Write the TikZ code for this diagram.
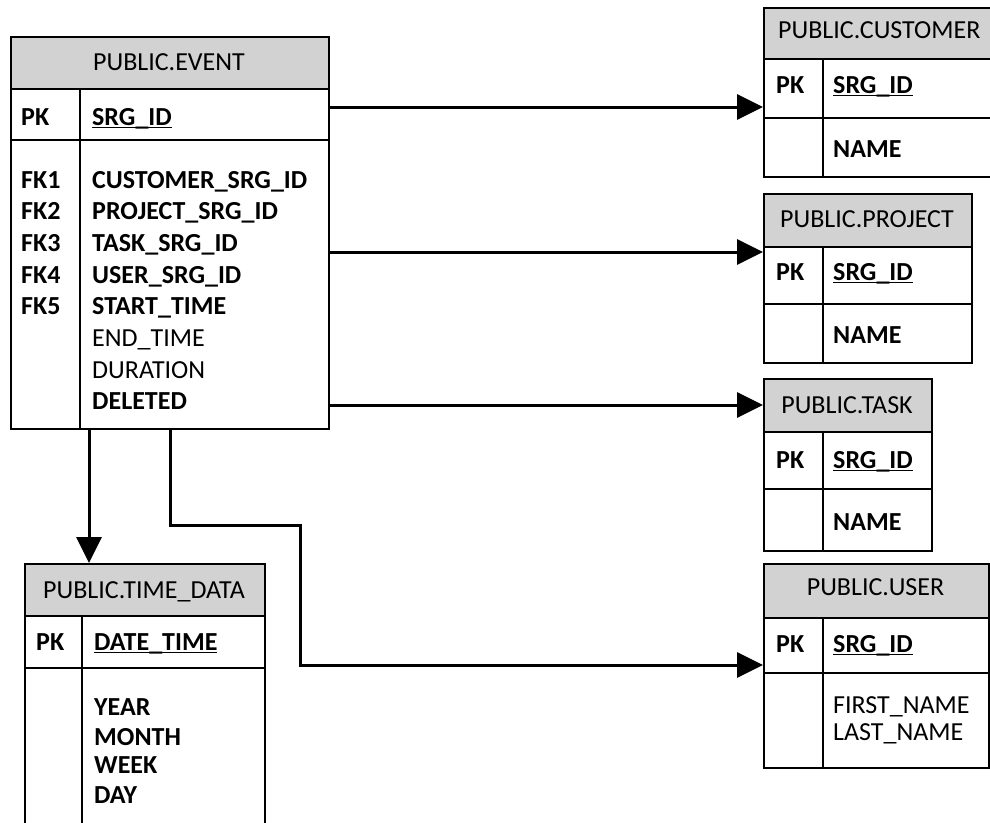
\documentclass[tikz,border=0pt]{standalone}
\usepackage{fontspec}
\setmainfont{Carlito}
\usetikzlibrary{arrows.meta}
\definecolor{hdrgray}{RGB}{210,210,210}
\newcommand\tblfont{\fontsize{26}{31}\selectfont}
% primary-key field: text with a rule just below the baseline
\newcommand\keyfield[1]{\setbox0\hbox{#1}\rlap{\rule[-3pt]{\wd0}{1.4pt}}\box0}

\tikzset{
  tblbox/.style={draw, line width=1.8pt, rectangle, inner sep=0pt, anchor=north west},
  hdrbox/.style={tblbox, fill=hdrgray},
  grid/.style={line width=1.8pt},
  ttl/.style={anchor=base, inner sep=0pt, font=\tblfont},
  ttlw/.style={anchor=base west, inner sep=0pt, font=\tblfont},
  keylbl/.style={anchor=base west, inner sep=0pt, font=\tblfont\bfseries},
  fld/.style={anchor=base west, inner sep=0pt, font=\tblfont\bfseries},
  plainfld/.style={anchor=base west, inner sep=0pt, font=\tblfont},
  link/.style={line width=3pt, -{Triangle[length=26pt, width=25pt]}}
}

\begin{document}
\begin{tikzpicture}[x=1pt, y=-1pt]
\useasboundingbox (0,0) rectangle (990,822);
\clip (0,0) rectangle (990,822);

% ---------- PUBLIC.EVENT ----------
\node[hdrbox, minimum width=318pt, minimum height=52pt] (eventH) at (10,36) {};
\node[tblbox, minimum width=318pt, minimum height=392pt] (event) at (10,36) {};
\draw[grid] (10,140) -- (328,140);
\draw[grid] (80,88) -- (80,428);
\node[ttl] (eventT) at (169,70) {PUBLIC.EVENT};
\node[keylbl] (eventPK) at (21,125) {PK};
\node[fld] (eventId) at (92,125) {\keyfield{SRG\_ID}};
\node[keylbl] (fk1) at (21,188) {FK1};
\node[keylbl] (fk2) at (21,219.7) {FK2};
\node[keylbl] (fk3) at (21,251.4) {FK3};
\node[keylbl] (fk4) at (21,283.1) {FK4};
\node[keylbl] (fk5) at (21,314.8) {FK5};
\node[fld] (f1) at (92,188) {CUSTOMER\_SRG\_ID};
\node[fld] (f2) at (92,219.7) {PROJECT\_SRG\_ID};
\node[fld] (f3) at (92,251.4) {TASK\_SRG\_ID};
\node[fld] (f4) at (92,283.1) {USER\_SRG\_ID};
\node[fld] (f5) at (92,314.8) {START\_TIME};
\node[plainfld] (f6) at (92,346.5) {END\_TIME};
\node[plainfld] (f7) at (92,378.2) {DURATION};
\node[fld] (f8) at (92,409.9) {DELETED};

% ---------- PUBLIC.CUSTOMER ----------
\node[hdrbox, minimum width=250pt, minimum height=51pt] (customerH) at (763,7) {};
\node[tblbox, minimum width=250pt, minimum height=169pt] (customer) at (763,7) {};
\draw[grid] (763,118) -- (1013,118);
\draw[grid] (823,58) -- (823,176);
\node[ttlw] (customerT) at (778,38) {PUBLIC.CUSTOMER};
\node[keylbl] (customerPK) at (776,93) {PK};
\node[fld] (customerId) at (833,93) {\keyfield{SRG\_ID}};
\node[fld] (customerName) at (833,157) {NAME};

% ---------- PUBLIC.PROJECT ----------
\node[hdrbox, minimum width=208pt, minimum height=53pt] (projectH) at (763,193) {};
\node[tblbox, minimum width=208pt, minimum height=169pt] (project) at (763,193) {};
\draw[grid] (763,304) -- (971,304);
\draw[grid] (823,246) -- (823,362);
\node[ttl] (projectT) at (867,227) {PUBLIC.PROJECT};
\node[keylbl] (projectPK) at (776,280) {PK};
\node[fld] (projectId) at (833,280) {\keyfield{SRG\_ID}};
\node[fld] (projectName) at (833,343) {NAME};

% ---------- PUBLIC.TASK ----------
\node[hdrbox, minimum width=168pt, minimum height=53pt] (taskH) at (763,378) {};
\node[tblbox, minimum width=168pt, minimum height=172pt] (task) at (763,378) {};
\draw[grid] (763,489) -- (931,489);
\draw[grid] (823,431) -- (823,550);
\node[ttl] (taskT) at (847,413) {PUBLIC.TASK};
\node[keylbl] (taskPK) at (776,468) {PK};
\node[fld] (taskId) at (833,468) {\keyfield{SRG\_ID}};
\node[fld] (taskName) at (833,530) {NAME};

% ---------- PUBLIC.USER ----------
\node[hdrbox, minimum width=225pt, minimum height=54pt] (userH) at (763,563) {};
\node[tblbox, minimum width=225pt, minimum height=204pt] (user) at (763,563) {};
\draw[grid] (763,673) -- (988,673);
\draw[grid] (823,617) -- (823,767);
\node[ttl] (userT) at (875.5,595) {PUBLIC.USER};
\node[keylbl] (userPK) at (776,652) {PK};
\node[fld] (userId) at (833,652) {\keyfield{SRG\_ID}};
\node[plainfld] (userFirst) at (833,713) {FIRST\_NAME};
\node[plainfld] (userLast) at (833,740) {LAST\_NAME};

% ---------- PUBLIC.TIME_DATA ----------
\node[hdrbox, minimum width=240pt, minimum height=52pt] (timeH) at (24,563) {};
\node[tblbox, minimum width=240pt, minimum height=290pt] (time) at (24,563) {};
\draw[grid] (24,668) -- (264,668);
\draw[grid] (82,615) -- (82,853);
\node[ttl] (timeT) at (144,598) {PUBLIC.TIME\_DATA};
\node[keylbl] (timePK) at (36,650) {PK};
\node[fld] (timeId) at (94,650) {\keyfield{DATE\_TIME}};
\node[fld] (timeYear) at (94,715) {YEAR};
\node[fld] (timeMonth) at (94,745) {MONTH};
\node[fld] (timeWeek) at (94,773) {WEEK};
\node[fld] (timeDay) at (94,803) {DAY};

% ---------- foreign-key links ----------
\coordinate (rowCust) at (0,107);
\coordinate (rowProj) at (0,252);
\coordinate (rowTask) at (0,405);
\coordinate (colTime) at (89,0);
\coordinate (colUser) at (170,0);
\coordinate (bendA) at (170,525);
\coordinate (bendB) at (300,525);
\coordinate (bendC) at (300,665);

\draw[link] (event.east |- rowCust) -- (customer.west |- rowCust);
\draw[link] (event.east |- rowProj) -- (project.west |- rowProj);
\draw[link] (event.east |- rowTask) -- (task.west |- rowTask);
\draw[link] (event.south -| colTime) -- (time.north -| colTime);
\draw[link] (event.south -| colUser) -- (bendA) -- (bendB) -- (bendC) -- (user.west |- bendC);
\end{tikzpicture}
\end{document}
